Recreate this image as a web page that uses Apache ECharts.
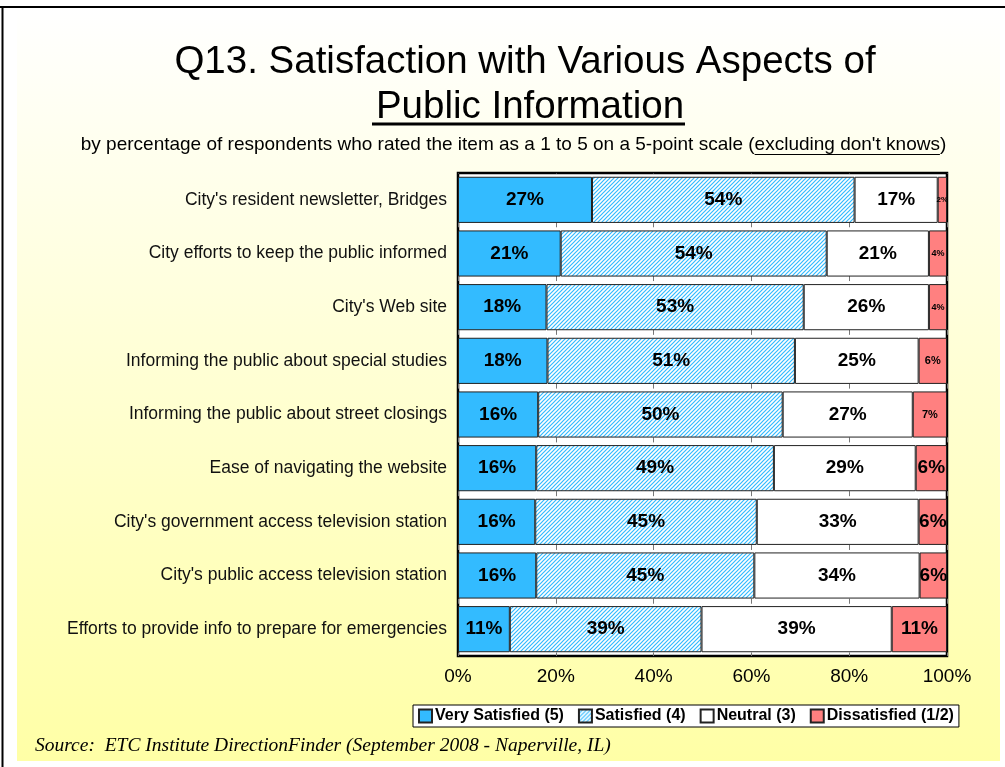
<!DOCTYPE html>
<html>
<head>
<meta charset="utf-8">
<script src="https://cdn.jsdelivr.net/npm/echarts@6/dist/echarts.min.js"></script>
<style>
  html, body { margin: 0; padding: 0; background: #fff; }
  #chart { width: 1005px; height: 767px; }
</style>
</head>
<body>
<div id="chart"></div>
<script>
// categories, top to bottom
const items = [
    "City's resident newsletter, Bridges",
    "City efforts to keep the public informed",
    "City's Web site",
    "Informing the public about special studies",
    "Informing the public about street closings",
    "Ease of navigating the website",
    "City's government access television station",
    "City's public access television station",
    "Efforts to provide info to prepare for emergencies"
];

// percent of respondents
const verySatisfied = [27.4, 21.0, 18.1, 18.3, 16.4, 16.0, 15.8, 16.0, 10.6];
const satisfied     = [53.7, 54.4, 52.6, 50.6, 50.0, 48.6, 45.3, 44.6, 39.2];
const neutral       = [17.0, 20.9, 25.6, 25.3, 26.6, 29.0, 33.1, 33.8, 38.9];
const dissatisfied  = [1.9, 3.7, 3.7, 5.8, 7.0, 6.4, 5.8, 5.6, 11.3];

const seriesNames = ['Very Satisfied (5)', 'Satisfied (4)', 'Neutral (3)', 'Dissatisfied (1/2)'];
const xTicks = [0, 20, 40, 60, 80, 100];

// label size for the narrow red segments (style only)
const dissatLabelSize = [8, 9, 9, 11, 11, 19, 19, 19, 19];

const FONT = 'Arial, "Liberation Sans", sans-serif';
const SUBTITLE = "by percentage of respondents who rated the item as a 1 to 5 on a 5-point scale (excluding don't knows)";
const SUB_FONT = '19px Arial, "Liberation Sans", sans-serif';
const SUB_CX = 513.5, SUB_Y = 145;

// hatched fill for "Satisfied"
function makeHatch() {
    const c = document.createElement('canvas');
    c.width = 4; c.height = 4;
    const ctx = c.getContext('2d');
    ctx.fillStyle = '#ffffff';
    ctx.fillRect(0, 0, 4, 4);
    ctx.strokeStyle = '#33bbff';
    ctx.lineWidth = 1.2;
    ctx.beginPath();
    ctx.moveTo(0, 4); ctx.lineTo(4, 0);
    ctx.moveTo(-1, 1); ctx.lineTo(1, -1);
    ctx.moveTo(3, 5); ctx.lineTo(5, 3);
    ctx.stroke();
    return c;
}
const hatch = { image: makeHatch(), repeat: 'repeat' };

// where the underlined part of the subtitle sits
function subtitleUnderline() {
    const ctx = document.createElement('canvas').getContext('2d');
    ctx.font = SUB_FONT;
    const full = ctx.measureText(SUBTITLE).width;
    const start = ctx.measureText(SUBTITLE.slice(0, SUBTITLE.indexOf('(') + 1)).width;
    const end = ctx.measureText(SUBTITLE.slice(0, SUBTITLE.length - 1)).width;
    const x0 = SUB_CX - full / 2;
    return [x0 + start, x0 + end];
}
const ul = subtitleUnderline();

const pct = p => Math.round(p.value) + '%';

function barSeries(name, values, fill) {
    return {
        name: name,
        type: 'bar',
        stack: 'all',
        barCategoryGap: '14%',
        data: values,
        itemStyle: { color: fill, borderColor: '#222', borderWidth: 1 },
        label: {
            show: true,
            position: 'inside',
            formatter: pct,
            fontFamily: FONT,
            fontWeight: 'bold',
            fontSize: 19,
            color: '#000'
        }
    };
}

const chart = echarts.init(document.getElementById('chart'));

const dissatData = dissatisfied.map((v, i) => ({
    value: v,
    label: { fontSize: dissatLabelSize[i] }
}));

const option = {
    animation: false,
    graphic: [
        {
            type: 'rect', z: -100, silent: true,
            shape: { x: 17, y: 8, width: 983, height: 753 },
            style: {
                fill: new echarts.graphic.LinearGradient(0, 0, 0, 1, [
                    { offset: 0, color: '#ffffff' },
                    { offset: 1, color: '#ffffa6' }
                ])
            }
        },
        { type: 'line', z: 100, shape: { x1: 0, y1: 7, x2: 1005, y2: 7 }, style: { stroke: '#000', lineWidth: 2 } },
        { type: 'line', z: 100, shape: { x1: 2.5, y1: 7, x2: 2.5, y2: 767 }, style: { stroke: '#000', lineWidth: 2 } },
        {
            type: 'text',
            style: {
                text: 'Q13. Satisfaction with Various Aspects of', x: 525, y: 62, align: 'center', verticalAlign: 'middle',
                fontFamily: FONT, fontSize: 38.5, fill: '#000'
            }
        },
        {
            type: 'text',
            style: {
                text: 'Public Information', x: 530, y: 107, align: 'center', verticalAlign: 'middle',
                fontFamily: FONT, fontSize: 38.5, fill: '#000'
            }
        },
        { type: 'line', shape: { x1: 372, y1: 124, x2: 685, y2: 124 }, style: { stroke: '#000', lineWidth: 3 } },
        {
            type: 'text',
            style: {
                text: SUBTITLE, x: SUB_CX, y: SUB_Y, align: 'center', verticalAlign: 'middle',
                font: SUB_FONT, fill: '#000'
            }
        },
        { type: 'line', shape: { x1: ul[0], y1: 154.5, x2: ul[1], y2: 154.5 }, style: { stroke: '#000', lineWidth: 1 } },
        {
            type: 'text',
            style: {
                text: 'Source:  ETC Institute DirectionFinder (September 2008 - Naperville, IL)',
                x: 35, y: 746, verticalAlign: 'middle',
                fontFamily: '"Times New Roman", "Liberation Serif", serif',
                fontStyle: 'italic', fontSize: 19.5, fill: '#000'
            }
        }
    ],
    grid: {
        left: 458, right: 58, top: 173, bottom: 111,
        show: true, backgroundColor: '#fff', borderColor: '#000', borderWidth: 2.5
    },
    legend: {
        data: seriesNames,
        left: 413, top: 705,
        padding: [3, 5],
        itemGap: 14,
        itemWidth: 13, itemHeight: 13,
        backgroundColor: '#fff',
        borderColor: '#000', borderWidth: 1,
        borderRadius: 0,
        icon: 'rect',
        textStyle: { fontFamily: FONT, fontWeight: 'bold', fontSize: 16, color: '#000', padding: [0, 0, 0, -2] }
    },
    xAxis: {
        type: 'value',
        min: 0, max: 100, interval: 20,
        axisLine: { show: false },
        axisTick: { show: false },
        splitLine: { show: true, lineStyle: { color: '#777', width: 1, type: [5, 48.78], dashOffset: 4.5 } },
        axisLabel: {
            margin: 11,
            fontFamily: FONT, fontSize: 19, color: '#000',
            formatter: v => xTicks.includes(v) ? v + '%' : ''
        }
    },
    yAxis: {
        type: 'category',
        inverse: true,
        data: items,
        axisLine: { show: false },
        axisTick: { show: false },
        axisLabel: { margin: 11, fontFamily: FONT, fontSize: 17.5, color: '#111' }
    },
    series: [
        barSeries(seriesNames[0], verySatisfied, '#33bbff'),
        barSeries(seriesNames[1], satisfied, hatch),
        barSeries(seriesNames[2], neutral, '#ffffff'),
        barSeries(seriesNames[3], dissatData, '#ff8080')
    ]
};

chart.setOption(option);
</script>
</body>
</html>
